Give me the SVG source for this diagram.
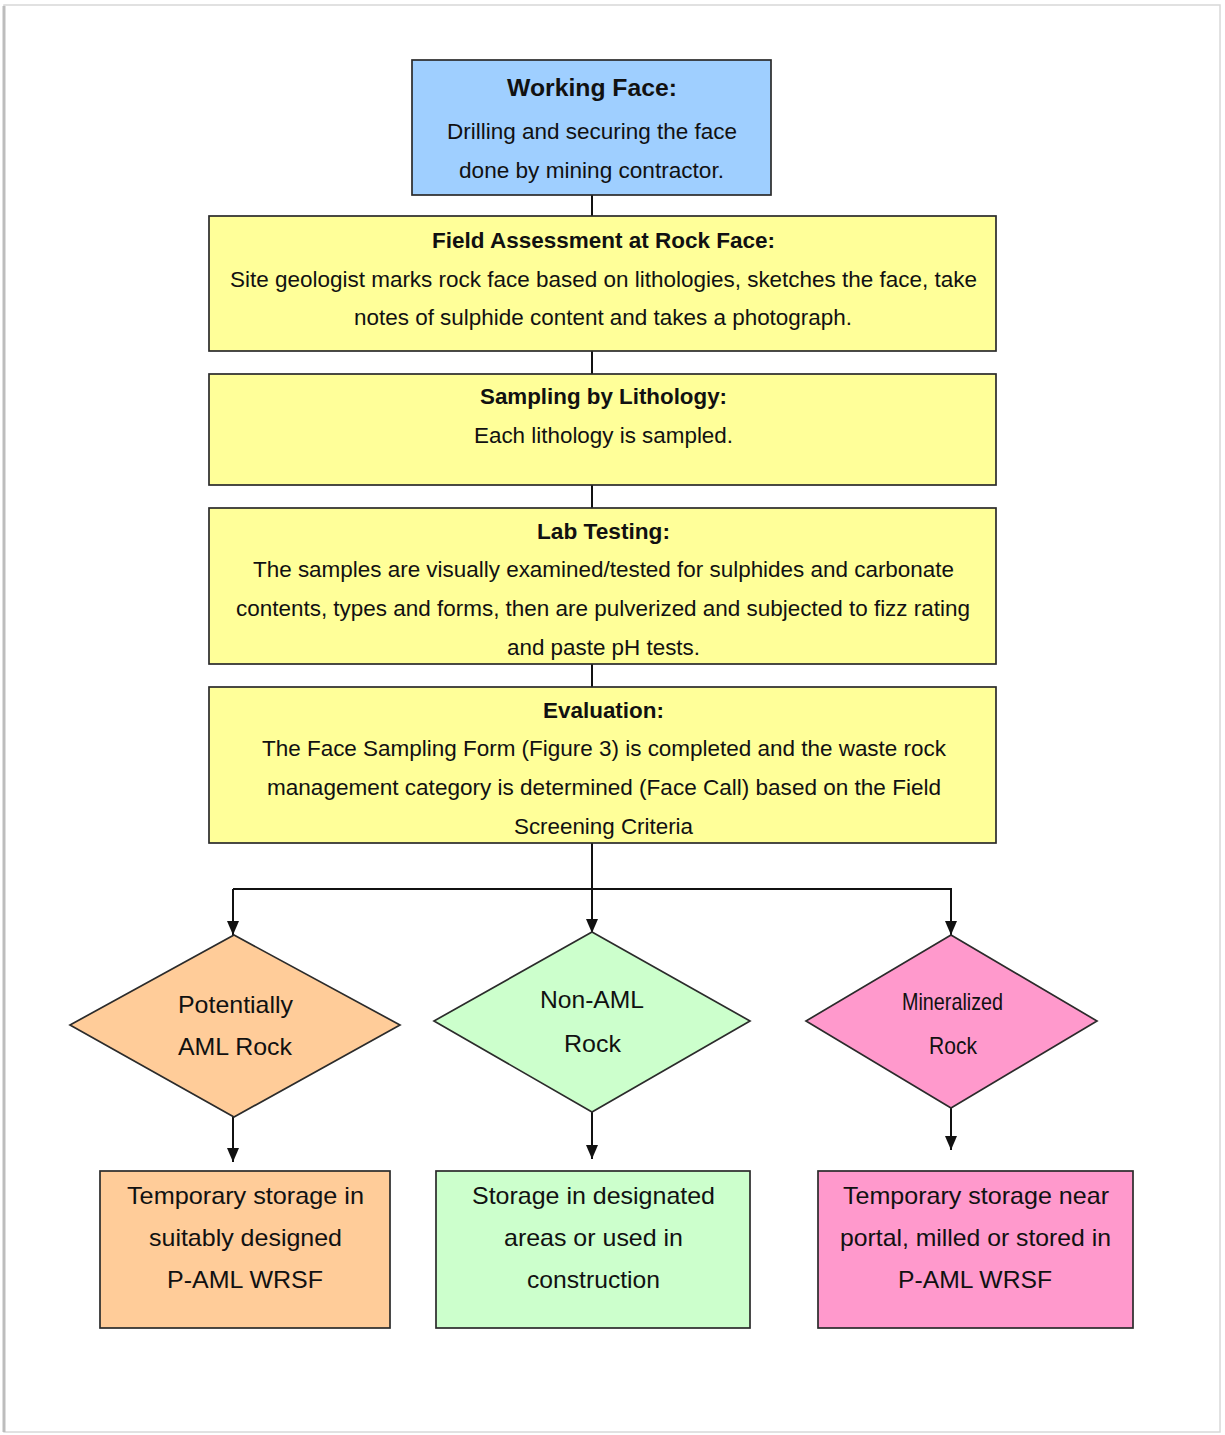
<svg xmlns="http://www.w3.org/2000/svg" width="1225" height="1435" viewBox="0 0 1225 1435">
<defs>
<style>
text{font-family:"Liberation Sans",Arial,sans-serif;fill:#111;text-anchor:middle}
.b{font-weight:bold;font-size:21.5px}
.t{font-size:21.5px}
.d{font-size:24px}
.box{stroke:#2b2b2b;stroke-width:1.7}
.c{stroke:#111;stroke-width:2;fill:none}
</style>
<marker id="ah" viewBox="0 0 10 10" refX="10" refY="5" markerWidth="14" markerHeight="12" markerUnits="userSpaceOnUse" orient="auto" preserveAspectRatio="none">
<path d="M0,0 L10,5 L0,10 z" fill="#111"/>
</marker>
<clipPath id="clipLab"><rect x="209" y="508" width="787" height="156"/></clipPath>
<clipPath id="clipEval"><rect x="209" y="687" width="787" height="156"/></clipPath>
</defs>
<rect x="0" y="0" width="1225" height="1435" fill="#fff"/>
<g id="page">
<rect x="4" y="5" width="1216" height="1427" fill="none" stroke="#d8d8d8" stroke-width="1.5"/>
<line x1="4" y1="6" x2="4" y2="1432" stroke="#bdbdbd" stroke-width="3"/>
</g>
<g id="connectors">
<line class="c" x1="592" y1="195" x2="592" y2="216"/>
<line class="c" x1="592" y1="351" x2="592" y2="374"/>
<line class="c" x1="592" y1="485" x2="592" y2="508"/>
<line class="c" x1="592" y1="664" x2="592" y2="687"/>
<line class="c" x1="592" y1="843" x2="592" y2="933" marker-end="url(#ah)"/>
<polyline class="c" points="233,889 951,889 951,935" marker-end="url(#ah)"/>
<line class="c" x1="233" y1="889" x2="233" y2="935" marker-end="url(#ah)"/>
<line class="c" x1="233" y1="1117" x2="233" y2="1162" marker-end="url(#ah)"/>
<line class="c" x1="592" y1="1112" x2="592" y2="1159" marker-end="url(#ah)"/>
<line class="c" x1="951" y1="1108" x2="951" y2="1150" marker-end="url(#ah)"/>
</g>
<g id="working-face">
<rect class="box" x="412" y="60" width="359" height="135" fill="#9fcfff"/>
<text class="b" x="592" y="96" style="font-size:23px" textLength="170" lengthAdjust="spacingAndGlyphs">Working Face:</text>
<text class="t" x="592" y="139" textLength="290" lengthAdjust="spacingAndGlyphs">Drilling and securing the face</text>
<text class="t" x="591.5" y="178" textLength="265" lengthAdjust="spacingAndGlyphs">done by mining contractor.</text>
</g>
<g id="field-assessment">
<rect class="box" x="209" y="216" width="787" height="135" fill="#ffff99"/>
<text class="b" x="603.5" y="248" textLength="343" lengthAdjust="spacingAndGlyphs">Field Assessment at Rock Face:</text>
<text class="t" x="603.5" y="287" textLength="747" lengthAdjust="spacingAndGlyphs">Site geologist marks rock face based on lithologies, sketches the face, take</text>
<text class="t" x="603" y="325" textLength="498" lengthAdjust="spacingAndGlyphs">notes of sulphide content and takes a photograph.</text>
</g>
<g id="sampling">
<rect class="box" x="209" y="374" width="787" height="111" fill="#ffff99"/>
<text class="b" x="603.5" y="404" textLength="247" lengthAdjust="spacingAndGlyphs">Sampling by Lithology:</text>
<text class="t" x="603.5" y="443" textLength="259" lengthAdjust="spacingAndGlyphs">Each lithology is sampled.</text>
</g>
<g id="lab-testing">
<rect class="box" x="209" y="508" width="787" height="156" fill="#ffff99"/>
<g clip-path="url(#clipLab)">
<text class="b" x="603.5" y="539" textLength="133" lengthAdjust="spacingAndGlyphs">Lab Testing:</text>
<text class="t" x="603.5" y="577" textLength="701" lengthAdjust="spacingAndGlyphs">The samples are visually examined/tested for sulphides and carbonate</text>
<text class="t" x="603" y="616" textLength="734" lengthAdjust="spacingAndGlyphs">contents, types and forms, then are pulverized and subjected to fizz rating</text>
<text class="t" x="603.5" y="655" textLength="193" lengthAdjust="spacingAndGlyphs">and paste pH tests.</text>
</g>
</g>
<g id="evaluation">
<rect class="box" x="209" y="687" width="787" height="156" fill="#ffff99"/>
<g clip-path="url(#clipEval)">
<text class="b" x="603.5" y="718" textLength="121" lengthAdjust="spacingAndGlyphs">Evaluation:</text>
<text class="t" x="604" y="756" textLength="684" lengthAdjust="spacingAndGlyphs">The Face Sampling Form (Figure 3) is completed and the waste rock</text>
<text class="t" x="604" y="795" textLength="674" lengthAdjust="spacingAndGlyphs">management category is determined (Face Call) based on the Field</text>
<text class="t" x="603.5" y="834" textLength="179" lengthAdjust="spacingAndGlyphs">Screening Criteria</text>
</g>
</g>
<g id="potentially-aml">
<polygon class="box" points="234,935 400,1025 234,1117 70,1025" fill="#ffcc99"/>
<text class="d" x="235.5" y="1013" textLength="115" lengthAdjust="spacingAndGlyphs">Potentially</text>
<text class="d" x="235" y="1055" textLength="114" lengthAdjust="spacingAndGlyphs">AML Rock</text>
</g>
<g id="non-aml">
<polygon class="box" points="592,932 750,1021 592,1112 434,1021" fill="#ccffcc"/>
<text class="d" x="592" y="1008" textLength="104" lengthAdjust="spacingAndGlyphs">Non-AML</text>
<text class="d" x="592.5" y="1052" textLength="57" lengthAdjust="spacingAndGlyphs">Rock</text>
</g>
<g id="mineralized">
<polygon class="box" points="951,935 1097,1021 951,1108 806,1021" fill="#ff99cc"/>
<text class="d" x="952.5" y="1010" textLength="101" lengthAdjust="spacingAndGlyphs">Mineralized</text>
<text class="d" x="953" y="1054" textLength="48" lengthAdjust="spacingAndGlyphs">Rock</text>
</g>
<g id="temp-storage-paml">
<rect class="box" x="100" y="1171" width="290" height="157" fill="#ffcc99"/>
<text class="d" x="245.5" y="1204" textLength="237" lengthAdjust="spacingAndGlyphs">Temporary storage in</text>
<text class="d" x="245.5" y="1246" textLength="193" lengthAdjust="spacingAndGlyphs">suitably designed</text>
<text class="d" x="245" y="1288" textLength="156" lengthAdjust="spacingAndGlyphs">P-AML WRSF</text>
</g>
<g id="storage-designated">
<rect class="box" x="436" y="1171" width="314" height="157" fill="#ccffcc"/>
<text class="d" x="593.5" y="1204" textLength="243" lengthAdjust="spacingAndGlyphs">Storage in designated</text>
<text class="d" x="593.5" y="1246" textLength="179" lengthAdjust="spacingAndGlyphs">areas or used in</text>
<text class="d" x="593.5" y="1288" textLength="133" lengthAdjust="spacingAndGlyphs">construction</text>
</g>
<g id="temp-storage-portal">
<rect class="box" x="818" y="1171" width="315" height="157" fill="#ff99cc"/>
<text class="d" x="976" y="1204" textLength="266" lengthAdjust="spacingAndGlyphs">Temporary storage near</text>
<text class="d" x="975.5" y="1246" textLength="271" lengthAdjust="spacingAndGlyphs">portal, milled or stored in</text>
<text class="d" x="975" y="1288" textLength="154" lengthAdjust="spacingAndGlyphs">P-AML WRSF</text>
</g>
</svg>
